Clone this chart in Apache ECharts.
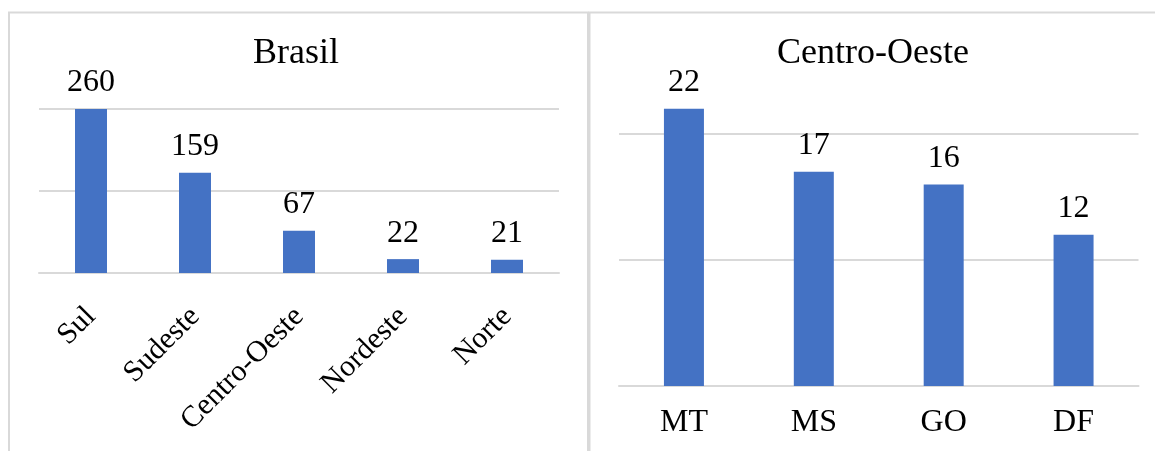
<!DOCTYPE html>
<html>
<head>
<meta charset="utf-8">
<script src="https://cdn.jsdelivr.net/npm/echarts@6/dist/echarts.min.js"></script>
<style>
  html, body { margin: 0; padding: 0; background: #fff; }
  #chart { width: 1155px; height: 451px; }
</style>
</head>
<body>
<div id="chart"></div>
<script>
// left panel: all regions
const regions = ['Sul', 'Sudeste', 'Centro-Oeste', 'Nordeste', 'Norte'];
const regionValues = [260, 159, 67, 22, 21];

// right panel: Centro-Oeste states
const states = ['MT', 'MS', 'GO', 'DF'];
const stateValues = [22, 17, 16, 12];

const serif = '"Liberation Serif", "Times New Roman", serif';
const gridColor = '#d9d9d9';
const barColor = '#4472c4';

const chart = echarts.init(document.getElementById('chart'));

const valueAxis = (gridIndex, max, interval) => ({
  type: 'value',
  gridIndex: gridIndex,
  min: 0,
  max: max,
  interval: interval,
  axisLabel: { show: false },
  axisLine: { show: false },
  axisTick: { show: false },
  splitLine: { lineStyle: { color: gridColor, width: 2 } },
});

const option = {
  animation: false,
  title: [
    {
      text: 'Brasil',
      left: 253,
      top: 36,
      padding: 0,
      textStyle: { fontFamily: serif, fontSize: 36, fontWeight: 'normal', color: '#000' },
    },
    {
      text: 'Centro-Oeste',
      left: 777,
      top: 36,
      padding: 0,
      textStyle: { fontFamily: serif, fontSize: 36, fontWeight: 'normal', color: '#000' },
    },
  ],
  graphic: [
    {
      type: 'rect',
      shape: { x: 9, y: 12.5, width: 579, height: 460 },
      style: { fill: null, stroke: gridColor, lineWidth: 2 },
      silent: true,
    },
    {
      type: 'rect',
      shape: { x: 589.5, y: 12.5, width: 600, height: 460 },
      style: { fill: null, stroke: gridColor, lineWidth: 2 },
      silent: true,
    },
  ],
  grid: [
    { left: 39, right: 596, top: 109, bottom: 178 },
    { left: 619, right: 16.5, top: 134, bottom: 65 },
  ],
  xAxis: [
    {
      type: 'category',
      gridIndex: 0,
      data: regions,
      axisLine: { lineStyle: { color: gridColor, width: 2 } },
      axisTick: { show: false },
      axisLabel: {
        rotate: 45,
        align: 'right',
        verticalAlign: 'middle',
        margin: 39,
        interval: 0,
        fontFamily: serif,
        fontSize: 30,
        color: '#000',
      },
    },
    {
      type: 'category',
      gridIndex: 1,
      data: states,
      axisLine: { lineStyle: { color: gridColor, width: 2 } },
      axisTick: { show: false },
      axisLabel: {
        margin: 21,
        interval: 0,
        fontFamily: serif,
        fontSize: 32,
        color: '#000',
      },
    },
  ],
  yAxis: [valueAxis(0, 260, 130), valueAxis(1, 20, 10)],
  series: [
    {
      type: 'bar',
      xAxisIndex: 0,
      yAxisIndex: 0,
      data: regionValues,
      barWidth: 32,
      clip: false,
      itemStyle: { color: barColor },
      label: {
        show: true,
        position: 'top',
        distance: 10,
        fontFamily: serif,
        fontSize: 32,
        color: '#000',
      },
    },
    {
      type: 'bar',
      xAxisIndex: 1,
      yAxisIndex: 1,
      data: stateValues,
      barWidth: 40,
      clip: false,
      itemStyle: { color: barColor },
      label: {
        show: true,
        position: 'top',
        distance: 10,
        fontFamily: serif,
        fontSize: 32,
        color: '#000',
      },
    },
  ],
};

chart.setOption(option);
</script>
</body>
</html>
